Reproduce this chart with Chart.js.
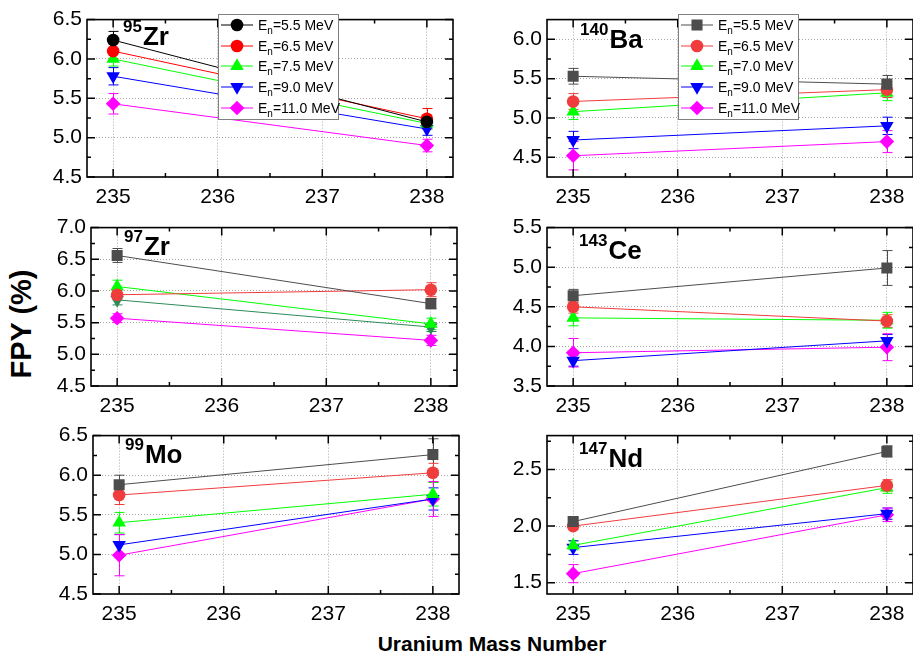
<!DOCTYPE html>
<html>
<head>
<meta charset="utf-8">
<script src="https://cdn.jsdelivr.net/npm/chart.js@4.4.1/dist/chart.umd.min.js"></script>
<style>
body{margin:0;width:913px;height:658px;overflow:hidden;background:#fff;position:relative;font-family:"Liberation Sans",Arial,sans-serif;color:#000}
canvas{position:absolute}
.lbl{position:absolute;font-weight:bold;font-size:26px;line-height:26px;white-space:nowrap}
.lbl span{font-size:17px;position:relative;top:-13px;margin-right:1px}
.legend{position:absolute;background:#fff;border:1px solid #808080;width:121px;height:106px;box-sizing:border-box}
.row{position:absolute;left:0;height:20px;width:118px;font-size:14px;line-height:20px;white-space:nowrap}
.row svg{position:absolute;left:1px;top:2px}
.row .txt{position:absolute;left:39px;top:0}
.row .txt span{font-size:10px;position:relative;top:4px}
#ytitle{position:absolute;left:-49px;top:309px;width:140px;height:30px;line-height:30px;text-align:center;font-weight:bold;font-size:29px;transform:rotate(-90deg)}
#xtitle{position:absolute;left:292px;top:633px;width:400px;line-height:21px;text-align:center;font-weight:bold;font-size:21px}
</style>
</head>
<body>
<div id="ytitle">FPY (%)</div>
<div id="xtitle">Uranium Mass Number</div>
<script>
// ---- data ----
const massNumbers = [235, 238];
const massTicks = [235, 236, 237, 238];
const massRange = [234.75, 238.25];
const energiesA = ['5.5', '6.5', '7.5', '9.0', '11.0'];
const energiesB = ['5.5', '6.5', '7.0', '9.0', '11.0'];

// rows = neutron energy series, columns = 235, 238
const zr95Values = [[6.24, 5.20], [6.10, 5.24], [6.00, 5.18], [5.78, 5.11], [5.43, 4.90]];
const zr95Errors = [[0.11, 0.05], [0.10, 0.13], [0.09, 0.07], [0.11, 0.08], [0.13, 0.08]];
const zr95Range = [4.5, 6.5];
const zr95Ticks = [4.5, 5.0, 5.5, 6.0, 6.5];

const ba140Values = [[5.53, 5.43], [5.21, 5.36], [5.08, 5.32], [4.72, 4.90], [4.52, 4.70]];
const ba140Errors = [[0.10, 0.11], [0.10, 0.10], [0.10, 0.10], [0.11, 0.11], [0.18, 0.14]];
const ba140Range = [4.25, 6.25];
const ba140Ticks = [4.5, 5.0, 5.5, 6.0];

const zr97Values = [[6.56, 5.80], [5.94, 6.02], [6.07, 5.48], [5.86, 5.43], [5.57, 5.22]];
const zr97Errors = [[0.11, 0.08], [0.08, 0.11], [0.10, 0.09], [0.08, 0.07], [0.07, 0.08]];
const zr97Range = [4.5, 7.0];
const zr97Ticks = [4.5, 5.0, 5.5, 6.0, 6.5, 7.0];

const ce143Values = [[4.64, 4.99], [4.50, 4.32], [4.36, 4.33], [3.82, 4.07], [3.92, 3.99]];
const ce143Errors = [[0.08, 0.22], [0.08, 0.08], [0.10, 0.10], [0.07, 0.08], [0.18, 0.17]];
const ce143Range = [3.5, 5.5];
const ce143Ticks = [3.5, 4.0, 4.5, 5.0, 5.5];

const mo99Values = [[5.88, 6.26], [5.75, 6.03], [5.40, 5.76], [5.12, 5.70], [4.99, 5.70]];
const mo99Errors = [[0.12, 0.20], [0.12, 0.12], [0.13, 0.15], [0.13, 0.14], [0.26, 0.22]];
const mo99Range = [4.5, 6.5];
const mo99Ticks = [4.5, 5.0, 5.5, 6.0, 6.5];

const nd147Values = [[2.04, 2.66], [2.00, 2.36], [1.83, 2.34], [1.81, 2.11], [1.58, 2.10]];
const nd147Errors = [[0.03, 0.05], [0.03, 0.05], [0.04, 0.05], [0.06, 0.05], [0.08, 0.06]];
const nd147Range = [1.4, 2.8];
const nd147Ticks = [1.5, 2.0, 2.5];

// ---- looks ----
const lookA = {colors: ['#000000', '#ff0000', '#00ff00', '#0000ff', '#ff00ff'], styles: ['circle', 'circle', 'triangle', 'triangle', 'rectRot'], rot: [0, 0, 0, 180, 0]};
const lookB = {colors: ['#4d4d4d', '#f03c3c', '#00ff00', '#0000ff', '#ff00ff'], styles: ['rect', 'circle', 'triangle', 'triangle', 'rectRot'], rot: [0, 0, 0, 180, 0]};
const lookC = {colors: ['#4d4d4d', '#f03c3c', '#00ff00', '#2e8b57', '#ff00ff'], styles: ['rect', 'circle', 'triangle', 'triangle', 'rectRot'], rot: [0, 0, 0, 180, 0]};
const radius = {circle: 6.3, rect: 7.8, triangle: 7.8, rectRot: 7.3};

const PAD_T = 12, PAD_R = 14, YAXIS_W = 46, XAXIS_H = 34, PLOT_W = 366;
const FONT = 'Liberation Sans';

const panels = [
  {values: zr95Values, errors: zr95Errors, range: zr95Range, ticks: zr95Ticks, nuclide: ['95', 'Zr'], at: [87, 14, 163], look: lookA, legend: energiesA, labelAt: [36, 31]},
  {values: ba140Values, errors: ba140Errors, range: ba140Range, ticks: ba140Ticks, nuclide: ['140', 'Ba'], at: [547, 14, 163], look: lookB, legend: energiesB, labelAt: [33, 34]},
  {values: zr97Values, errors: zr97Errors, range: zr97Range, ticks: zr97Ticks, nuclide: ['97', 'Zr'], at: [91, 222, 164], look: lookC, labelAt: [33, 33]},
  {values: ce143Values, errors: ce143Errors, range: ce143Range, ticks: ce143Ticks, nuclide: ['143', 'Ce'], at: [547, 222, 164], look: lookB, labelAt: [32, 37]},
  {values: mo99Values, errors: mo99Errors, range: mo99Range, ticks: mo99Ticks, nuclide: ['99', 'Mo'], at: [93, 430, 164], look: lookB, labelAt: [32, 33]},
  {values: nd147Values, errors: nd147Errors, range: nd147Range, ticks: nd147Ticks, nuclide: ['147', 'Nd'], at: [547, 430, 164], look: lookB, labelAt: [32, 37]}
];

// vertical error bars with caps, drawn under the lines/markers
const errorBars = {
  id: 'errorBars',
  beforeDatasetsDraw(chart) {
    const {ctx, scales: {x, y}} = chart;
    ctx.save();
    ctx.lineWidth = 1;
    chart.data.datasets.forEach(ds => {
      ctx.strokeStyle = ds.borderColor;
      ds.data.forEach((pt, i) => {
        const e = ds.errors[i];
        const px = Math.round(x.getPixelForValue(pt.x)) + 0.5;
        const top = y.getPixelForValue(pt.y + e);
        const bot = y.getPixelForValue(pt.y - e);
        ctx.beginPath();
        ctx.moveTo(px, top); ctx.lineTo(px, bot);
        ctx.moveTo(px - 5, top); ctx.lineTo(px + 5, top);
        ctx.moveTo(px - 5, bot); ctx.lineTo(px + 5, bot);
        ctx.stroke();
      });
    });
    ctx.restore();
  }
};

// box frame with inward major + minor ticks on all four sides
function minorsOf(vals, min, max) {
  const out = [];
  const step = vals[1] - vals[0];
  for (let i = 0; i < vals.length - 1; i++) out.push((vals[i] + vals[i + 1]) / 2);
  const lo = vals[0] - step / 2, hi = vals[vals.length - 1] + step / 2;
  if (lo > min + 1e-9) out.push(lo);
  if (hi < max - 1e-9) out.push(hi);
  return out;
}
const frame = {
  id: 'frame',
  afterDraw(chart) {
    const {ctx, chartArea: {left, top, right, bottom}, scales: {x, y}} = chart;
    ctx.save();
    ctx.strokeStyle = '#000';
    ctx.lineWidth = 1.5;
    ctx.beginPath();
    const xt = x.ticks.map(t => t.value), yt = y.ticks.map(t => t.value);
    const tickX = (v, len) => { const p = x.getPixelForValue(v); ctx.moveTo(p, bottom); ctx.lineTo(p, bottom - len); ctx.moveTo(p, top); ctx.lineTo(p, top + len); };
    const tickY = (v, len) => { const p = y.getPixelForValue(v); ctx.moveTo(left, p); ctx.lineTo(left + len, p); ctx.moveTo(right, p); ctx.lineTo(right - len, p); };
    xt.forEach(v => tickX(v, 8));
    minorsOf(xt, x.min, x.max).forEach(v => tickX(v, 4));
    yt.forEach(v => tickY(v, 8));
    minorsOf(yt, y.min, y.max).forEach(v => tickY(v, 4));
    ctx.stroke();
    ctx.lineWidth = 1.6;
    ctx.strokeRect(left, top, right - left, bottom - top);
    ctx.restore();
  }
};

function markerSvg(style, rot, color, cx, cy) {
  const r = radius[style];
  if (style === 'circle') return `<circle cx="${cx}" cy="${cy}" r="${r}" fill="${color}"/>`;
  if (style === 'rect') { const s = r * Math.SQRT1_2; return `<rect x="${cx - s}" y="${cy - s}" width="${2 * s}" height="${2 * s}" fill="${color}"/>`; }
  let pts;
  if (style === 'triangle') {
    const d = rot === 180 ? -1 : 1;
    pts = [[cx, cy - d * r], [cx + r * 0.866, cy + d * r / 2], [cx - r * 0.866, cy + d * r / 2]];
  } else {
    pts = [[cx, cy - r], [cx + r, cy], [cx, cy + r], [cx - r, cy]];
  }
  return `<polygon points="${pts.map(p => p.join(',')).join(' ')}" fill="${color}"/>`;
}

function addLegend(p) {
  const box = document.createElement('div');
  box.className = 'legend';
  box.style.left = (p.at[0] + 131) + 'px';
  box.style.top = p.at[1] + 'px';
  p.legend.forEach((en, i) => {
    const row = document.createElement('div');
    row.className = 'row';
    row.style.top = (i * 20.7) + 'px';
    const c = p.look.colors[i];
    row.innerHTML = `<svg width="36" height="16"><line x1="1" y1="8" x2="33" y2="8" stroke="${c}" stroke-width="1"/>` +
      markerSvg(p.look.styles[i], p.look.rot[i], c, 17, 8) + `</svg>` +
      `<div class="txt">E<span>n</span>=${en} MeV</div>`;
    box.appendChild(row);
  });
  document.body.appendChild(box);
}

function addLabel(p) {
  const d = document.createElement('div');
  d.className = 'lbl';
  d.style.left = (p.at[0] + p.labelAt[0]) + 'px';
  d.style.top = (p.at[1] + p.labelAt[1] - 22) + 'px';
  d.innerHTML = `<span>${p.nuclide[0]}</span>${p.nuclide[1]}`;
  document.body.appendChild(d);
}

panels.forEach(p => {
  const cv = document.createElement('canvas');
  const w = YAXIS_W + PLOT_W + PAD_R, h = PAD_T + p.at[2] + XAXIS_H;
  cv.width = w; cv.height = h;
  cv.style.left = (p.at[0] - YAXIS_W) + 'px';
  cv.style.top = (p.at[1] - PAD_T) + 'px';
  document.body.appendChild(cv);

  const datasets = p.values.map((vals, i) => ({
    data: massNumbers.map((m, j) => ({x: m, y: vals[j]})),
    errors: p.errors[i],
    borderColor: p.look.colors[i],
    backgroundColor: p.look.colors[i],
    borderWidth: 1,
    pointStyle: p.look.styles[i],
    pointRotation: p.look.rot[i],
    pointRadius: radius[p.look.styles[i]],
    pointBorderWidth: 0,
    showLine: true,
    tension: 0
  }));

  new Chart(cv, {
    type: 'line',
    data: {datasets},
    plugins: [errorBars, frame],
    options: {
      responsive: false,
      animation: false,
      events: [],
      layout: {padding: {top: PAD_T, right: PAD_R, left: 0, bottom: 0}},
      plugins: {legend: {display: false}, tooltip: {enabled: false}},
      scales: {
        x: {
          type: 'linear', min: massRange[0], max: massRange[1],
          afterBuildTicks: s => { s.ticks = massTicks.map(v => ({value: v})); },
          afterFit: s => { s.height = XAXIS_H; },
          grid: {color: '#a8a8a8', lineWidth: 1, drawTicks: false},
          border: {display: false, dash: [1, 2]},
          ticks: {padding: 8, color: '#000', maxRotation: 0, font: {family: FONT, size: 21}, callback: v => String(v)}
        },
        y: {
          type: 'linear', min: p.range[0], max: p.range[1],
          afterBuildTicks: s => { s.ticks = p.ticks.map(v => ({value: v})); },
          afterFit: s => { s.width = YAXIS_W; },
          grid: {color: '#a8a8a8', lineWidth: 1, drawTicks: false},
          border: {display: false, dash: [1, 2]},
          ticks: {padding: 5, color: '#000', font: {family: FONT, size: 21}, callback: v => v.toFixed(1)}
        }
      }
    }
  });

  addLabel(p);
  if (p.legend) addLegend(p);
});
</script>
</body>
</html>
